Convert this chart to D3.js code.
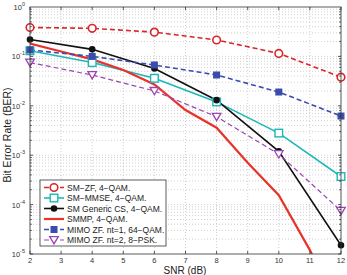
<!DOCTYPE html>
<html><head><meta charset="utf-8">
<script src="https://cdn.jsdelivr.net/npm/d3@7"></script>
<style>body{margin:0;background:#fff}svg{display:block;font-family:"Liberation Sans",Arial,sans-serif}</style>
</head><body><svg id="c" width="347" height="275"></svg>
<script>
const snrEven = [2,4,6,8,10,12];
const snrAll = [2,3,4,5,6,7,8,9,10,11,12];
const smzf = [0.385,0.37,0.31,0.215,0.115,0.038];
const smmmse = [0.13,0.075,0.036,0.012,0.0028,0.00037];
const smcs = [0.22,0.139,0.057,0.013,0.0012,0.000015];
const smmp = [0.182,0.126,0.087,0.053,0.027,0.0082,0.0036,0.0007,0.000155,0.000012,0.0000006];
const mimo64 = [0.135,0.10,0.067,0.042,0.019,0.0062];
const mimo8psk = [0.075,0.042,0.020,0.006,0.00105,0.000075];
const legendLabels = ["SM\u2212ZF, 4\u2212QAM.","SM\u2212MMSE, 4\u2212QAM.","SM Generic CS, 4\u2212QAM.","SMMP, 4\u2212QAM.","MIMO ZF. nt=1, 64\u2212QAM.","MIMO ZF. nt=2, 8\u2212PSK."];
const xTicks = [2,3,4,5,6,7,8,9,10,11,12];
const yExps = [0,-1,-2,-3,-4,-5];

const svg = d3.select("#c");
const L=30,R=341,T=7,B=254;
const x = d3.scaleLinear().domain([2,12]).range([L,R]);
const y = d3.scaleLog().domain([1e-5,1]).range([B,T]);

const series = [
 {xs:snrEven, v:smzf, color:"#d8262c", dash:"5,3", w:1.6, marker:"circle", fill:"#fff", ms:3.8},
 {xs:snrEven, v:smmmse, color:"#1cb8b8", dash:null, w:1.6, marker:"square", fill:"#fff", ms:3.8},
 {xs:snrEven, v:smcs, color:"#111", dash:null, w:1.6, marker:"circle", fill:"#111", ms:2.5},
 {xs:snrAll, v:smmp, color:"#e8332a", dash:null, w:2.2, marker:null},
 {xs:snrEven, v:mimo64, color:"#3a4cae", dash:"5,3", w:1.6, marker:"square", fill:"#3a4cae", ms:2.8},
 {xs:snrEven, v:mimo8psk, color:"#9b45b0", dash:"5,3", w:1.2, marker:"tri", fill:"#fff", ms:4.3}
];

// grid
const g = svg.append("g");
xTicks.forEach(t=>g.append("line").attr("x1",x(t)).attr("x2",x(t)).attr("y1",T).attr("y2",B).attr("stroke","#bbb").attr("stroke-width",0.7).attr("stroke-dasharray","1,2"));
const minor=[];
for(let e=-5;e<0;e++) for(let m=1;m<10;m++) minor.push(m*Math.pow(10,e));
minor.forEach(v=>{ if(v>1e-5) g.append("line").attr("x1",L).attr("x2",R).attr("y1",y(v)).attr("y2",y(v)).attr("stroke","#bbb").attr("stroke-width",0.7).attr("stroke-dasharray","1,2");});

// clip
svg.append("clipPath").attr("id","cp").append("rect").attr("x",L).attr("y",T).attr("width",R-L).attr("height",B-T);

const line = d3.line().x(d=>x(d[0])).y(d=>y(d[1]));
const plot = svg.append("g").attr("clip-path","url(#cp)");
series.forEach(s=>{
  const pts = s.xs.map((xx,i)=>[xx,s.v[i]]);
  plot.append("path").attr("d",line(pts)).attr("fill","none").attr("stroke",s.color).attr("stroke-width",s.w).attr("stroke-dasharray",s.dash);
});
function drawMarker(sel,type,cx,cy,ms,color,fill){
  if(type==="circle") sel.append("circle").attr("cx",cx).attr("cy",cy).attr("r",ms).attr("fill",fill).attr("stroke",color).attr("stroke-width",1.6);
  else if(type==="square") sel.append("rect").attr("x",cx-ms).attr("y",cy-ms).attr("width",2*ms).attr("height",2*ms).attr("fill",fill).attr("stroke",color).attr("stroke-width",1.4);
  else if(type==="tri") sel.append("path").attr("d",`M${cx-ms},${cy-ms*0.8}L${cx+ms},${cy-ms*0.8}L${cx},${cy+ms*0.9}Z`).attr("fill",fill).attr("stroke",color).attr("stroke-width",1.3);
}
const mk = svg.append("g");
series.forEach(s=>{ if(!s.marker) return;
  s.xs.forEach((xx,i)=>drawMarker(mk,s.marker,x(xx),y(s.v[i]),s.ms,s.color,s.fill));
});

// frame and ticks
const ax = svg.append("g").attr("stroke","#333").attr("stroke-width",0.8);
ax.append("rect").attr("x",L).attr("y",T).attr("width",R-L).attr("height",B-T).attr("fill","none");
xTicks.forEach(t=>{ax.append("line").attr("x1",x(t)).attr("x2",x(t)).attr("y1",B).attr("y2",B-3);
 ax.append("line").attr("x1",x(t)).attr("x2",x(t)).attr("y1",T).attr("y2",T+3);});
minor.forEach(v=>{ if(v<1e-5) return; const len = (Math.abs(Math.log10(v)-Math.round(Math.log10(v)))<1e-6)?3:1.8;
 ax.append("line").attr("x1",L).attr("x2",L+len).attr("y1",y(v)).attr("y2",y(v));
 ax.append("line").attr("x1",R).attr("x2",R-len).attr("y1",y(v)).attr("y2",y(v));});

// tick labels
const tl = svg.append("g").attr("font-size",7.5).attr("fill","#333");
xTicks.forEach(t=>tl.append("text").attr("x",x(t)).attr("y",263).attr("text-anchor","middle").text(t));
yExps.forEach(e=>{ const t=tl.append("text").attr("x",25).attr("y",y(Math.pow(10,e))+3).attr("text-anchor","end");
  t.append("tspan").text("10"); t.append("tspan").attr("dy",-4).attr("font-size",5.5).text(e);});
svg.append("text").attr("x",185).attr("y",274).attr("text-anchor","middle").attr("font-size",10).attr("fill","#222").text("SNR (dB)");
svg.append("text").attr("transform","translate(11,135) rotate(-90)").attr("text-anchor","middle").attr("font-size",10.5).attr("fill","#222").text("Bit Error Rate (BER)");

// legend
const lg = svg.append("g");
lg.append("rect").attr("x",40).attr("y",180).attr("width",126).attr("height",66).attr("fill","#fff").attr("stroke","#333").attr("stroke-width",0.8);
series.forEach((s,i)=>{ const yy=187.5+i*10.5;
  lg.append("line").attr("x1",44).attr("x2",64).attr("y1",yy).attr("y2",yy).attr("stroke",s.color).attr("stroke-width",s.w).attr("stroke-dasharray",s.dash);
  if(s.marker) drawMarker(lg,s.marker,54,yy,s.ms,s.color,s.fill);
  lg.append("text").attr("x",67).attr("y",yy+3).attr("font-size",8.5).attr("fill","#222").text(legendLabels[i]);
});
</script></body></html>
